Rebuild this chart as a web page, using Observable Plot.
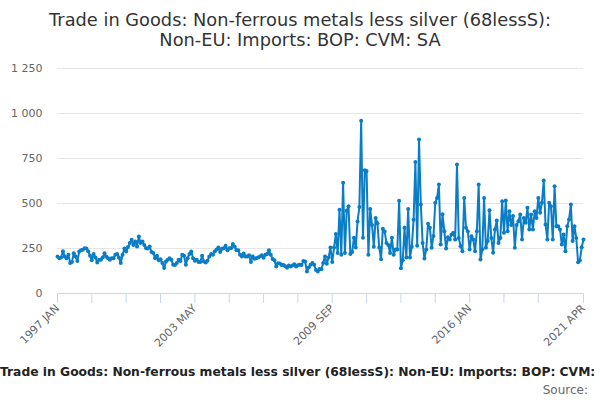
<!DOCTYPE html>
<html>
<head>
<meta charset="utf-8">
<script src="https://cdn.jsdelivr.net/npm/d3@7"></script>
<script src="https://cdn.jsdelivr.net/npm/@observablehq/plot@0.6"></script>
<style>
  body { margin: 0; width: 600px; height: 400px; overflow: hidden; position: relative; background: #fff; font-family: "DejaVu Sans", sans-serif; }
  #title { position: absolute; top: 10px; left: 0; width: 600px; text-align: center; font-size: 17.8px; line-height: 20px; color: #333; }
  #chart { position: absolute; top: 55px; left: 0; }
  #caption { position: absolute; top: 365px; left: 0; white-space: nowrap; font-weight: bold; font-size: 12.3px; color: #222; }
  #source { position: absolute; top: 383px; right: 12px; font-size: 12px; color: #666; }
</style>
</head>
<body>
<div id="title">Trade in Goods: Non-ferrous metals less silver (68lessS):<br>Non-EU: Imports: BOP: CVM: SA</div>
<div id="chart"></div>
<div id="caption">Trade in Goods: Non-ferrous metals less silver (68lessS): Non-EU: Imports: BOP: CVM:</div>
<div id="source">Source:</div>
<script>
const startYear = 1997;
const monthNames = ["JAN","FEB","MAR","APR","MAY","JUN","JUL","AUG","SEP","OCT","NOV","DEC"];

const values = [
  206,196,200,235,206,196,215,170,175,224,
  205,180,233,240,243,252,250,235,210,185,
  220,200,172,187,187,200,224,204,196,187,
  196,196,215,220,200,169,215,250,233,258,
  280,298,270,289,261,317,280,289,270,252,
  250,261,230,225,196,210,185,190,170,141,
  178,187,196,187,160,159,169,187,180,215,
  210,160,196,220,233,196,182,187,175,
  175,210,178,172,182,206,220,215,233,245,
  255,230,248,252,265,240,252,252,275,261,
  240,240,215,205,222,206,205,212,175,205,
  193,196,200,206,212,198,215,220,240,215,
  192,185,150,168,166,159,159,152,143,155,
  150,155,162,150,157,160,159,180,178,122,
  145,160,169,160,130,122,136,135,170,
  205,165,200,255,175,255,330,225,465,215,
  615,225,460,485,220,230,310,255,400,480,
  960,310,685,680,215,470,380,260,420,390,
  255,190,360,345,280,270,225,310,215,245,
  245,515,140,185,365,200,470,200,260,410,
  730,
  265,855,495,281,195,245,387,365,254,320,
  504,531,605,272,440,346,250,313,300,328,
  337,300,717,309,263,235,531,365,346,244,
  318,300,235,346,605,189,244,531,254,291,
  463,309,226,356,405,281,309,513,337,517,
  346,457,380,430,254,380,402,439,300,420,
  393,476,356,439,356,457,420,531,448,504,
  628,383,300,504,485,300,596,374,374,356,
  272,328,235,374,411,494,291,374,309,174,
  183,257,300
];

const months = values.map((_, i) => `${startYear + Math.floor(i / 12)} ${monthNames[i % 12]}`);
const tickLabels = ["1997 JAN", "2003 MAY", "2009 SEP", "2016 JAN", "2021 APR"];
const tickStep = 19;
const tickMonths = months.filter((m, i) => i % tickStep === 0 && i + tickStep / 2 < months.length).concat([months[months.length - 1]]);
const yTicks = [0, 250, 500, 750, 1000, 1250];

const data = months.map((m, i) => ({month: m, value: values[i]}));
const labelSet = new Set(tickLabels);
const lineColor = "#0a7dc6";
const fmt = d => d3.format(",")(d).replace(/,/g, " ");

const chart = Plot.plot({
  width: 600,
  height: 300,
  marginLeft: 57,
  marginRight: 17,
  marginTop: 13,
  marginBottom: 62,
  style: {fontFamily: "DejaVu Sans, sans-serif", fontSize: "11px", background: "transparent"},
  x: {type: "point", domain: months, padding: 0},
  y: {domain: [0, 1250]},
  marks: [
    Plot.gridY(yTicks.filter(d => d > 0), {stroke: "#e6e6e6", strokeOpacity: 1}),
    Plot.axisY(yTicks, {tickSize: 0, tickPadding: 15, tickFormat: fmt, fill: "#666", label: null, fontSize: 11}),
    Plot.ruleY([0], {stroke: "#ccd6eb", strokeWidth: 1}),
    Plot.axisX(tickMonths, {tickSize: 10, stroke: "#ccd6eb", strokeOpacity: 1, tickFormat: d => labelSet.has(d) ? d : "", tickRotate: -45, tickPadding: 3, fill: "#666", label: null, fontSize: 11}),
    Plot.line(data, {x: "month", y: "value", stroke: lineColor, strokeWidth: 2}),
    Plot.dot(data, {x: "month", y: "value", r: 2, fill: lineColor, stroke: null})
  ]
});
document.getElementById("chart").appendChild(chart);
</script>
</body>
</html>
